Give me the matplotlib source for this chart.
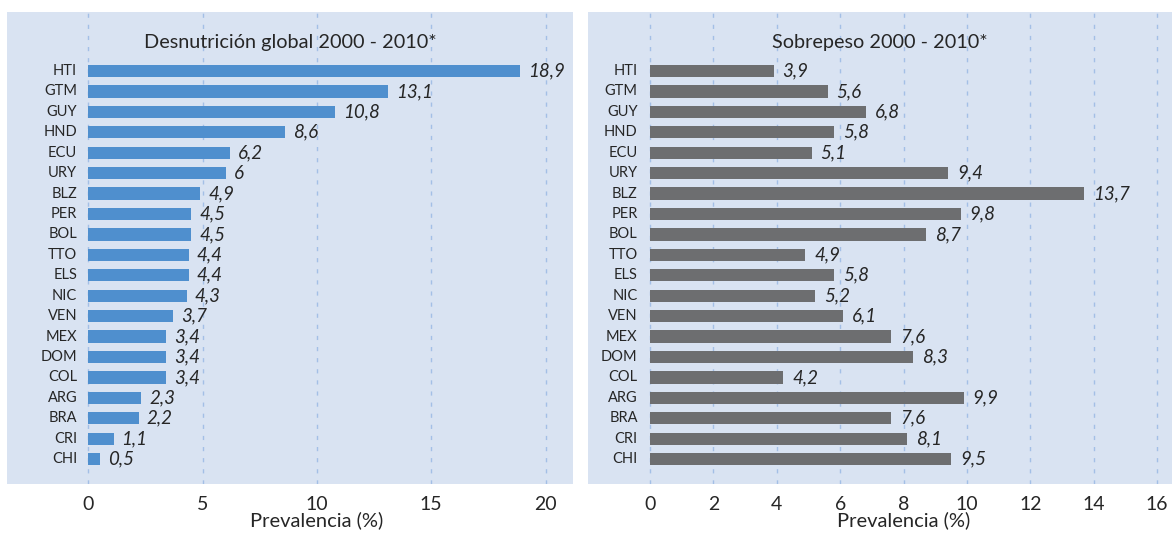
import numpy as np
import matplotlib.pyplot as plt

plt.rcParams['font.family'] = ['Lato', 'DejaVu Sans']

paises = ["HTI", "GTM", "GUY", "HND", "ECU", "URY", "BLZ", "PER", "BOL", "TTO",
          "ELS", "NIC", "VEN", "MEX", "DOM", "COL", "ARG", "BRA", "CRI", "CHI"]
desnutricion = [18.9, 13.1, 10.8, 8.6, 6.2, 6, 4.9, 4.5, 4.5, 4.4,
                4.4, 4.3, 3.7, 3.4, 3.4, 3.4, 2.3, 2.2, 1.1, 0.5]
sobrepeso = [3.9, 5.6, 6.8, 5.8, 5.1, 9.4, 13.7, 9.8, 8.7, 4.9,
             5.8, 5.2, 6.1, 7.6, 8.3, 4.2, 9.9, 7.6, 8.1, 9.5]
ticks_izq = [0, 5, 10, 15, 20]
ticks_der = [0, 2, 4, 6, 8, 10, 12, 14, 16]

fondo = "#d9e3f2"
texto = "#262626"

fig = plt.figure(figsize=(11.72, 5.34), dpi=100)
ax1 = fig.add_axes([7/1172, 50/534, 566/1172, 472/534])
ax2 = fig.add_axes([588/1172, 50/534, 584/1172, 472/534])

def panel(ax, vals, color, ticks, xlim, titulo, dx):
    y = np.arange(len(paises))
    ax.set_facecolor(fondo)
    for t in ticks:#dashed grid lines
        ax.axvline(t, color="#a3bfe6", lw=1.0, dashes=(3, 5), zorder=1)
    ax.barh(y, vals, height=0.6, color=color, zorder=2)
    for yi, v, p in zip(y, vals, paises):
        ax.text(v + dx, yi, f"{v:g}".replace(".", ","), va="center", ha="left",
                fontsize=13.5, style="italic", color=texto)
        ax.text(-dx * 1.4, yi, p, va="center", ha="right", fontsize=10.5, color=texto)
    ax.set_xlim(*xlim)
    ax.set_ylim(20.22, -2.89)
    ax.set_yticks([])
    ax.set_xticks(ticks)
    ax.tick_params(axis="x", length=0, pad=9, labelsize=14, labelcolor=texto)
    for s in ax.spines.values():
        s.set_visible(False)
    ax.set_xlabel("Prevalencia (%)", fontsize=14.5, color=texto)
    # label is centred on the tick range, not on the whole panel
    mid = (ticks[0] + ticks[-1]) / 2
    ax.xaxis.set_label_coords((mid - xlim[0]) / (xlim[1] - xlim[0]), -0.058)
    ax.text(0.5, 0.935, titulo, transform=ax.transAxes, ha="center", va="center",
            fontsize=14.3, color=texto)

panel(ax1, desnutricion, "#4f8fce", ticks_izq, (-3.56, 21.2),
      "Desnutrición global 2000 - 2010*", 0.35)
panel(ax2, sobrepeso, "#6d6e70", ticks_der, (-1.96, 16.47),
      "Sobrepeso 2000 - 2010*", 0.28)

fig.savefig("out.png", dpi=100)
